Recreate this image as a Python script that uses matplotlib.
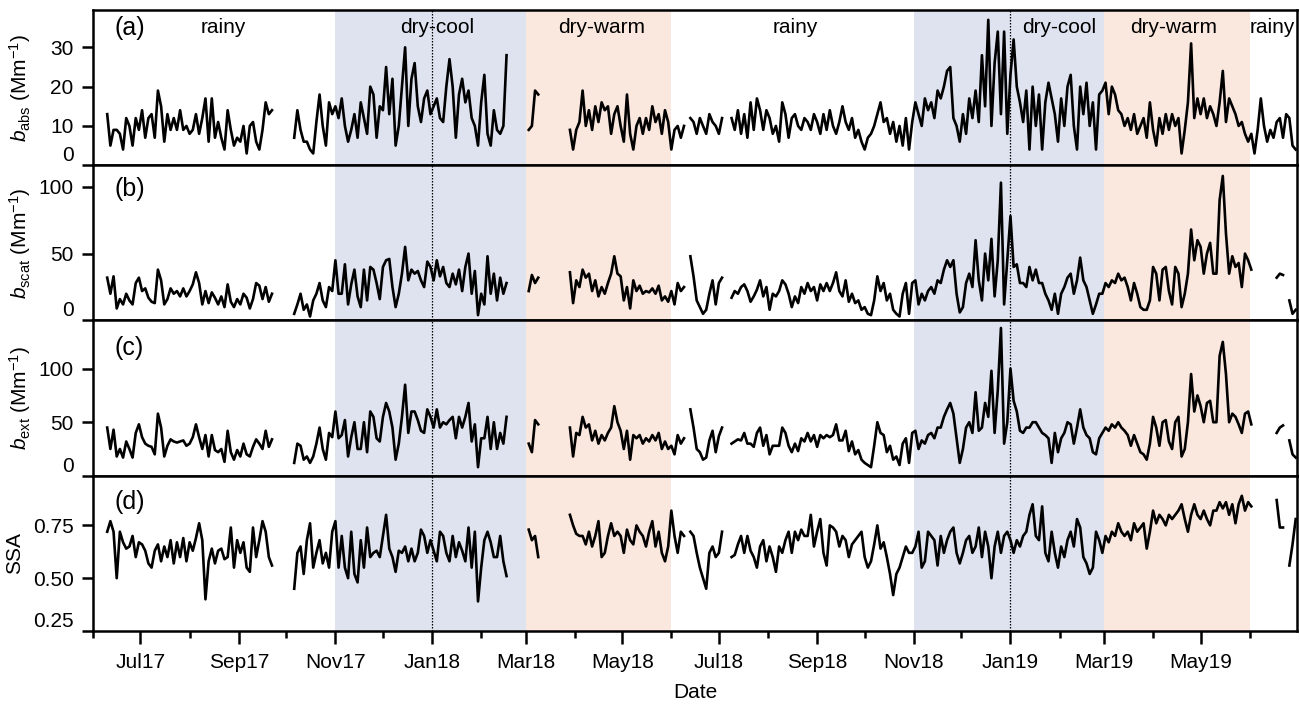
import numpy as np
import pandas as pd
import matplotlib
matplotlib.use('Agg')
import matplotlib.pyplot as plt
import matplotlib.dates as mdates
from matplotlib.ticker import FormatStrFormatter

plt.rcParams['font.family'] = ['Liberation Sans', 'DejaVu Sans']
plt.rcParams['mathtext.fontset'] = 'custom'
plt.rcParams['mathtext.rm'] = 'Liberation Sans'
plt.rcParams['mathtext.it'] = 'Liberation Sans:italic'

nan = np.nan

# daily means read every 2nd day, first value on 10 Jun 2017
start_date = '2017-06-10'
step = '2D'

babs = [
    13, 5, 9, 9, 8, 4, 12, 10, 5, 12,
    9, 14, 7, 12, 13, 7, 19, 15, 6, 13,
    9, 12, 9, 14, 9, 10, 8, 9, 13, 8,
    12, 17, 6, 17, 7, 11, 7, 4, 14, 9,
    5, 7, 6, 10, 3, 10, 11, 6, 4, 9,
    16, 13, 14, nan, nan, nan, nan, nan, nan, 7,
    14, 9, 6, 6, 4, 3, 11, 18, 10, 5,
    16, 13, 15, 12, 17, 10, 6, 9, 13, 7,
    16, 12, 8, 20, 18, 7, 15, 14, 25, 13,
    22, 5, 10, 20, 30, 10, 22, 26, 15, 11,
    17, 19, 13, 15, 17, 12, 11, 20, 27, 20,
    7, 18, 22, 16, 19, 12, 10, 5, 16, 23,
    8, 5, 14, 9, 8, 10, 28, nan, nan, nan,
    nan, nan, nan, 9, 10, 19, 18, nan, nan, nan,
    nan, nan, nan, nan, nan, nan, 9, 4, 9, 11,
    19, 10, 14, 9, 15, 11, 16, 14, 15, 8,
    13, 15, 10, 6, 18, 8, 4, 10, 12, 8,
    12, 9, 15, 11, 13, 8, 14, 11, 4, 9,
    10, 7, 10, nan, 12, 11, 8, 12, 10, 8,
    13, 11, 10, 8, 12, nan, nan, 12, 9, 14,
    8, 13, 7, 16, 9, 17, 14, 9, 14, 12,
    8, 10, 6, 16, 13, 7, 12, 13, 10, 9,
    12, 11, 9, 13, 11, 8, 13, 9, 14, 10,
    8, 11, 15, 11, 9, 12, 7, 9, 6, 4,
    7, 8, 10, 13, 16, 11, 12, 8, 11, 6,
    10, 5, 12, 4, 11, 16, 13, 10, 17, 14,
    16, 12, 19, 17, 20, 24, 25, 12, 10, 6,
    13, 8, 17, 12, 19, 11, 28, 15, 37, 10,
    26, 34, 13, 34, 8, 23, 32, 20, 16, 11,
    19, 4, 20, 10, 18, 4, 16, 21, 17, 13,
    6, 17, 10, 20, 23, 10, 4, 20, 13, 21,
    10, 16, 4, 18, 19, 21, 13, 20, 18, 14,
    13, 10, 12, 9, 13, 8, 10, 12, 7, 16,
    9, 5, 12, 8, 13, 9, 13, 10, 12, 3,
    9, 16, 31, 12, 17, 13, 17, 12, 15, 13,
    10, 16, 24, 11, 17, 15, 13, 10, 11, 8,
    6, 8, 3, 9, 17, 10, 6, 9, 7, 11,
    12, 7, 13, 12, 5, 4,
]

bscat = [
    32, 20, 33, 9, 16, 12, 20, 15, 12, 28,
    32, 22, 24, 17, 14, 13, 38, 30, 12, 16,
    24, 20, 22, 18, 24, 18, 22, 27, 36, 28,
    12, 22, 13, 21, 17, 12, 18, 10, 27, 14,
    10, 16, 12, 20, 17, 9, 16, 28, 26, 16,
    25, 14, 20, nan, nan, nan, nan, nan, nan, 5,
    12, 20, 8, 12, 3, 15, 20, 28, 15, 10,
    25, 22, 45, 20, 20, 42, 12, 27, 38, 18,
    10, 38, 15, 40, 38, 28, 16, 40, 45, 46,
    25, 10, 20, 35, 55, 30, 38, 35, 37, 30,
    25, 44, 40, 30, 45, 33, 40, 28, 25, 35,
    27, 38, 22, 40, 50, 20, 37, 4, 20, 12,
    48, 20, 35, 15, 32, 20, 28, nan, nan, nan,
    nan, nan, nan, 22, 34, 28, 32, nan, nan, nan,
    nan, nan, nan, nan, nan, nan, 36, 13, 30, 25,
    38, 32, 35, 22, 30, 18, 25, 20, 28, 35,
    48, 35, 33, 15, 25, 9, 30, 22, 26, 20,
    22, 21, 24, 20, 26, 15, 18, 14, 22, 12,
    28, 22, 25, nan, 48, 33, 15, 10, 5, 8,
    20, 30, 12, 28, 32, nan, nan, 17, 22, 20,
    25, 27, 22, 14, 18, 23, 30, 18, 25, 8,
    20, 18, 22, 30, 27, 20, 10, 18, 13, 25,
    20, 28, 22, 25, 15, 27, 22, 28, 22, 28,
    36, 22, 18, 30, 14, 20, 13, 15, 8, 10,
    5, 4, 15, 33, 22, 28, 15, 20, 8, 5,
    3, 20, 28, 5, 28, 30, 12, 20, 15, 22,
    25, 20, 30, 28, 38, 45, 40, 45, 20, 6,
    10, 28, 35, 25, 60, 30, 15, 50, 30, 61,
    18, 45, 103, 12, 45, 78, 40, 42, 28, 28,
    25, 40, 30, 38, 28, 28, 20, 15, 8, 20,
    5, 20, 25, 32, 35, 20, 30, 47, 30, 25,
    15, 5, 12, 20, 20, 28, 25, 30, 28, 35,
    30, 32, 25, 15, 28, 20, 10, 8, 8, 15,
    40, 35, 15, 38, 40, 22, 12, 40, 35, 10,
    20, 35, 68, 45, 60, 55, 35, 50, 58, 35,
    35, 90, 108, 65, 35, 48, 40, 43, 25, 50,
    45, 38, nan, nan, nan, nan, nan, nan, nan, 32,
    35, 34, nan, 15, 5, 8,
]

bext = [
    45, 25, 43, 18, 25, 17, 32, 25, 17, 40,
    48, 36, 30, 28, 27, 20, 58, 45, 18, 28,
    34, 32, 31, 32, 33, 28, 30, 36, 48, 36,
    25, 38, 18, 38, 24, 22, 25, 13, 42, 22,
    15, 24, 18, 30, 20, 18, 27, 34, 30, 25,
    42, 27, 34, nan, nan, nan, nan, nan, nan, 12,
    30, 28, 15, 18, 12, 18, 30, 45, 25, 15,
    40, 36, 60, 35, 38, 52, 18, 36, 50, 25,
    25, 50, 22, 60, 55, 35, 32, 55, 68, 60,
    45, 15, 30, 55, 85, 40, 60, 60, 52, 42,
    40, 62, 55, 45, 62, 45, 50, 48, 52, 55,
    35, 55, 45, 55, 68, 32, 48, 8, 35, 35,
    55, 25, 50, 25, 40, 30, 55, nan, nan, nan,
    nan, nan, nan, 30, 22, 52, 48, nan, nan, nan,
    nan, nan, nan, nan, nan, nan, 45, 18, 40, 38,
    55, 45, 48, 33, 42, 30, 38, 33, 40, 45,
    65, 50, 42, 25, 42, 15, 38, 35, 38, 30,
    35, 32, 38, 33, 40, 25, 32, 25, 28, 20,
    38, 30, 35, nan, 62, 45, 25, 22, 15, 17,
    33, 42, 22, 37, 45, nan, nan, 30, 32, 34,
    33, 40, 30, 30, 27, 40, 45, 28, 38, 20,
    28, 28, 28, 45, 40, 28, 22, 30, 23, 35,
    32, 40, 32, 38, 27, 38, 35, 38, 36, 38,
    48, 33, 33, 42, 23, 32, 20, 24, 15, 12,
    10, 8, 28, 50, 40, 38, 22, 28, 15, 18,
    10, 30, 35, 12, 40, 42, 25, 33, 30, 38,
    40, 35, 45, 45, 55, 62, 68, 58, 35, 12,
    25, 45, 50, 40, 78, 42, 45, 68, 55, 98,
    40, 80, 138, 30, 50, 100, 70, 60, 42, 40,
    45, 45, 50, 50, 45, 40, 38, 35, 12, 40,
    22, 35, 40, 50, 48, 30, 45, 62, 45, 38,
    35, 22, 20, 35, 40, 45, 42, 48, 45, 50,
    45, 42, 38, 28, 38, 30, 22, 20, 15, 30,
    55, 45, 28, 50, 52, 32, 25, 50, 55, 18,
    25, 50, 95, 60, 75, 65, 50, 68, 70, 50,
    50, 112, 125, 95, 50, 58, 55, 48, 40, 58,
    60, 48, nan, nan, nan, nan, nan, nan, nan, 40,
    45, 47, nan, 33, 20, 17,
]

ssa = [
    0.72, 0.77, 0.72, 0.50, 0.72, 0.67, 0.64, 0.65, 0.70, 0.60,
    0.67, 0.66, 0.63, 0.57, 0.55, 0.63, 0.66, 0.58, 0.65, 0.60,
    0.68, 0.57, 0.67, 0.60, 0.69, 0.58, 0.67, 0.63, 0.69, 0.76,
    0.68, 0.40, 0.58, 0.64, 0.57, 0.63, 0.64, 0.59, 0.60, 0.74,
    0.55, 0.68, 0.62, 0.67, 0.55, 0.53, 0.74, 0.60, 0.68, 0.77,
    0.72, 0.60, 0.56, nan, nan, nan, nan, nan, nan, 0.45,
    0.62, 0.65, 0.52, 0.68, 0.76, 0.55, 0.62, 0.68, 0.57, 0.62,
    0.55, 0.72, 0.77, 0.55, 0.70, 0.55, 0.50, 0.72, 0.52, 0.48,
    0.68, 0.55, 0.74, 0.60, 0.62, 0.63, 0.60, 0.70, 0.80, 0.64,
    0.60, 0.53, 0.63, 0.62, 0.65, 0.58, 0.64, 0.58, 0.62, 0.73,
    0.70, 0.62, 0.68, 0.63, 0.58, 0.72, 0.70, 0.62, 0.58, 0.70,
    0.60, 0.67, 0.63, 0.58, 0.74, 0.55, 0.72, 0.39, 0.55, 0.68,
    0.72, 0.67, 0.60, 0.60, 0.70, 0.58, 0.51, nan, nan, nan,
    nan, nan, nan, 0.73, 0.68, 0.70, 0.60, nan, nan, nan,
    nan, nan, nan, nan, nan, nan, 0.80, 0.75, 0.71, 0.70,
    0.70, 0.66, 0.72, 0.65, 0.70, 0.77, 0.60, 0.62, 0.70, 0.76,
    0.70, 0.72, 0.70, 0.62, 0.73, 0.68, 0.66, 0.75, 0.72, 0.70,
    0.65, 0.72, 0.77, 0.65, 0.72, 0.62, 0.58, 0.65, 0.82, 0.70,
    0.62, 0.72, 0.70, nan, 0.72, 0.70, 0.62, 0.55, 0.50, 0.45,
    0.62, 0.65, 0.60, 0.62, 0.72, nan, nan, 0.60, 0.61, 0.66,
    0.70, 0.62, 0.70, 0.63, 0.60, 0.55, 0.65, 0.68, 0.58, 0.65,
    0.60, 0.53, 0.65, 0.62, 0.68, 0.72, 0.62, 0.72, 0.68, 0.73,
    0.70, 0.70, 0.80, 0.65, 0.72, 0.78, 0.62, 0.56, 0.75, 0.74,
    0.72, 0.65, 0.70, 0.68, 0.60, 0.66, 0.68, 0.70, 0.72, 0.60,
    0.55, 0.58, 0.66, 0.75, 0.64, 0.67, 0.60, 0.52, 0.42, 0.52,
    0.55, 0.60, 0.65, 0.62, 0.62, 0.65, 0.72, 0.55, 0.58, 0.72,
    0.70, 0.68, 0.56, 0.70, 0.62, 0.68, 0.72, 0.74, 0.62, 0.57,
    0.62, 0.68, 0.70, 0.62, 0.65, 0.74, 0.60, 0.72, 0.65, 0.50,
    0.65, 0.72, 0.62, 0.70, 0.72, 0.68, 0.62, 0.68, 0.65, 0.70,
    0.72, 0.80, 0.85, 0.70, 0.68, 0.84, 0.62, 0.58, 0.72, 0.62,
    0.55, 0.65, 0.60, 0.68, 0.72, 0.65, 0.78, 0.74, 0.60, 0.57,
    0.52, 0.55, 0.72, 0.68, 0.62, 0.70, 0.67, 0.72, 0.70, 0.76,
    0.72, 0.70, 0.72, 0.68, 0.76, 0.72, 0.74, 0.76, 0.64, 0.72,
    0.82, 0.76, 0.80, 0.78, 0.75, 0.80, 0.78, 0.80, 0.82, 0.85,
    0.78, 0.72, 0.80, 0.85, 0.80, 0.78, 0.82, 0.78, 0.75, 0.82,
    0.82, 0.86, 0.83, 0.86, 0.80, 0.85, 0.76, 0.85, 0.89, 0.82,
    0.86, 0.84, nan, nan, nan, nan, nan, nan, nan, 0.87,
    0.74, 0.74, nan, 0.56, 0.66, 0.78,
]

# seasons
shade_starts = ['2017-11-01', '2018-03-01', '2018-11-01', '2019-03-01']
shade_ends = ['2018-03-01', '2018-06-01', '2019-03-01', '2019-06-01']
shade_colors = ['#dee3ef', '#fae7de', '#dee3ef', '#fae7de']
year_marks = ['2018-01-01', '2019-01-01']
season_names = ['rainy', 'dry-cool', 'dry-warm', 'rainy', 'dry-cool', 'dry-warm', 'rainy']
season_label_dates = ['2017-08-22', '2018-01-04', '2018-04-18', '2018-08-18',
                      '2019-02-01', '2019-04-14', '2019-06-15']

panel_tags = ['(a)', '(b)', '(c)', '(d)']
panel_tag_y = [0.885, 0.845, 0.82, 0.83]
ylabels = [r'$b_{\rm abs}$ (Mm$^{-1}$)', r'$b_{\rm scat}$ (Mm$^{-1}$)',
           r'$b_{\rm ext}$ (Mm$^{-1}$)', 'SSA']
yticks = [[0, 10, 20, 30], [0, 50, 100], [0, 50, 100], [0.25, 0.50, 0.75]]
ylims = [(0, 39.5), (0, 116), (0, 145), (0.25, 0.985)]

dates = pd.date_range(start_date, periods=len(babs), freq=step)
series = [babs, bscat, bext, ssa]

fig, axes = plt.subplots(4, 1, sharex=True, figsize=(13, 7.05), dpi=100)
fig.subplots_adjust(left=0.0715, right=0.9977, top=1 - 10 / 705, bottom=1 - 631 / 705, hspace=0)

for k, ax in enumerate(axes):
    for s, e, c in zip(shade_starts, shade_ends, shade_colors):
        ax.axvspan(pd.Timestamp(s), pd.Timestamp(e), color=c, lw=0, zorder=0)
    for d in year_marks:
        ax.axvline(pd.Timestamp(d), color='k', ls=(0, (1.2, 1.2)), lw=0.9, zorder=1)
    ax.plot(dates, series[k], color='k', lw=1.9, zorder=3)
    ax.set_ylim(*ylims[k])
    ax.set_yticks(yticks[k])
    ax.set_ylabel(ylabels[k], fontsize=15)
    ax.yaxis.set_label_coords(-0.05 if k < 3 else -0.057, 0.5)
    ax.tick_params(axis='y', direction='out', length=8, width=1.8, labelsize=15, pad=6)
    for sp in ax.spines.values():
        sp.set_linewidth(1.8)
    ax.text(0.018, panel_tag_y[k], panel_tags[k], transform=ax.transAxes,
            fontsize=18, va='center', ha='left')
    if k < 3:
        ax.tick_params(axis='x', which='both', length=0)
    ax.yaxis.get_major_ticks()[0].label1.set_verticalalignment('bottom')

axes[3].yaxis.set_major_formatter(FormatStrFormatter('%.2f'))

for name, d in zip(season_names, season_label_dates):
    axes[0].text(pd.Timestamp(d), 0.885, name, transform=axes[0].get_xaxis_transform(),
                 fontsize=15, ha='center', va='center')

ax = axes[3]
ax.set_xlim(pd.Timestamp('2017-06-01'), pd.Timestamp('2019-06-30 20:00'))
ax.xaxis.set_major_locator(mdates.MonthLocator(bymonth=[1, 3, 5, 7, 9, 11]))
ax.xaxis.set_minor_locator(mdates.MonthLocator(bymonth=[2, 4, 6, 8, 10, 12]))
ax.xaxis.set_major_formatter(mdates.DateFormatter('%b%y'))
ax.tick_params(axis='x', which='major', direction='out', length=9, width=1.8, labelsize=15, pad=7)
ax.tick_params(axis='x', which='minor', direction='out', length=5, width=1.8)
ax.set_xlabel('Date', fontsize=15, labelpad=8)

fig.savefig('out.png', dpi=100)
